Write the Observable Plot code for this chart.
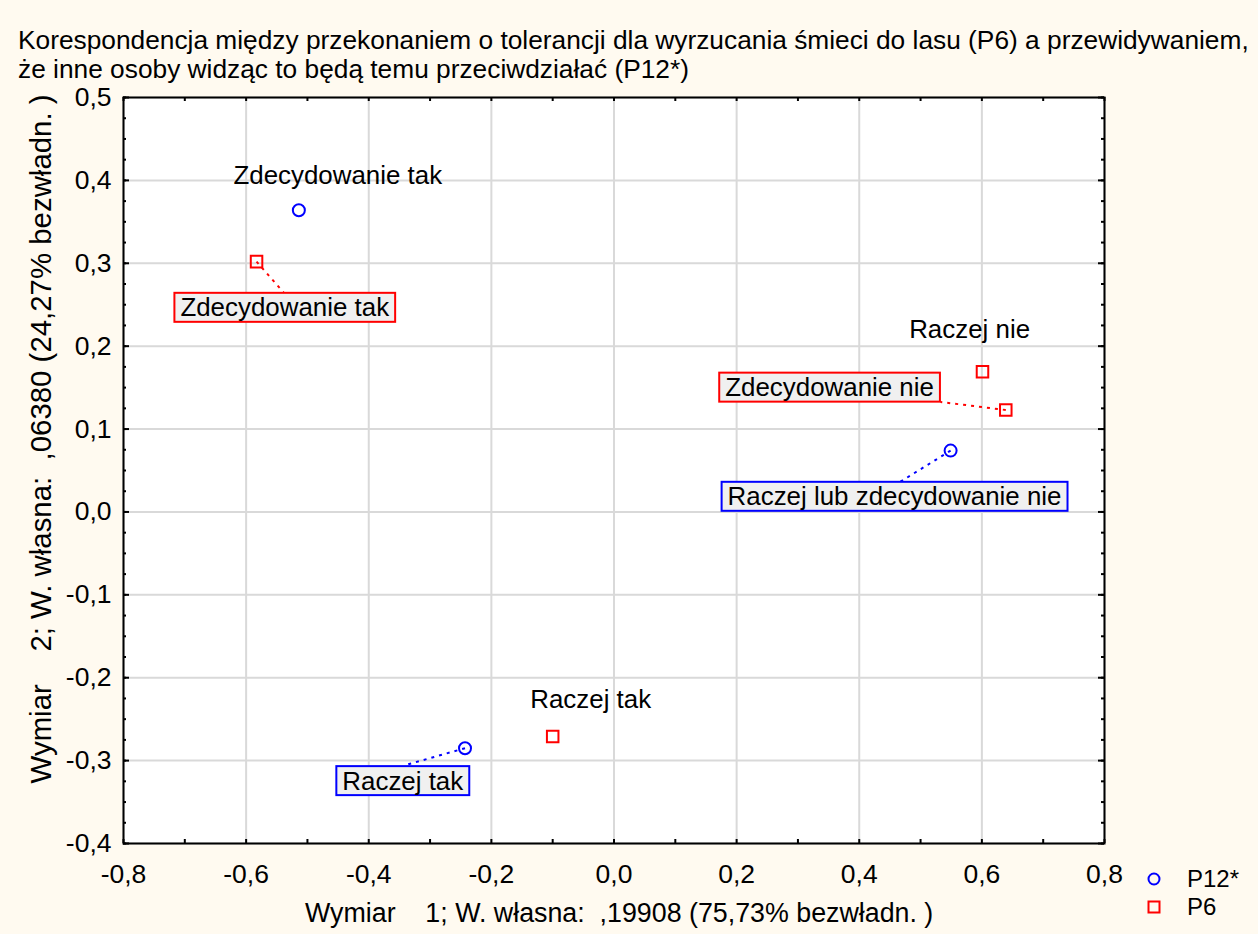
<!DOCTYPE html>
<html>
<head>
<meta charset="utf-8">
<script src="https://cdn.jsdelivr.net/npm/d3@7"></script>
<script src="https://cdn.jsdelivr.net/npm/@observablehq/plot@0.6"></script>
<style>
  html, body { margin: 0; padding: 0; background: #fffaf0; }
  #wrap { position: relative; width: 1258px; height: 934px; background: #fffaf0; overflow: hidden;
          font-family: "Liberation Sans", Arial, sans-serif; color: #000; }
  #title { position: absolute; left: 18px; top: 26px; font-size: 26.3px; line-height: 29px; white-space: pre; }
  #xlabel { position: absolute; left: 305px; top: 898px; font-size: 26.8px; line-height: 30px; white-space: pre; }
  #ylabel { position: absolute; left: 41px; top: 439px; font-size: 29.4px; line-height: 30px; white-space: pre;
            transform: translate(-50%, -50%) rotate(-90deg); }
  #legend { position: absolute; left: 1143px; top: 865px; font-size: 24px; line-height: 24px; }
  #legend div { display: flex; align-items: center; height: 28px; }
  #legend svg { width: 22px; height: 22px; margin-right: 22px; }
  #chart { position: absolute; left: 0; top: 0; }
</style>
</head>
<body>
<div id="wrap">
  <div id="chart"></div>
  <div id="title"></div>
  <div id="xlabel"></div>
  <div id="ylabel"></div>
  <div id="legend"></div>
</div>
<script>
// ---- Texts ----
const titleLines = [
  "Korespondencja między przekonaniem o tolerancji dla wyrzucania śmieci do lasu (P6) a przewidywaniem,",
  "że inne osoby widząc to będą temu przeciwdziałać (P12*)"
];
const xAxisTitle = "Wymiar    1; W. własna:  ,19908 (75,73% bezwładn. )";
const yAxisTitle = "Wymiar    2; W. własna:  ,06380 (24,27% bezwładn. )";
const seriesNames = ["P12*", "P6"];

// ---- Tick values ----
const xTicks = [-0.8, -0.6, -0.4, -0.2, 0.0, 0.2, 0.4, 0.6, 0.8];
const yTicks = [-0.4, -0.3, -0.2, -0.1, 0.0, 0.1, 0.2, 0.3, 0.4, 0.5];

// ---- Series P12* (circles) ----
const p12Labels = ["Zdecydowanie tak", "Raczej tak", "Raczej lub zdecydowanie nie"];
const p12Dim1 = [-0.514, -0.243, 0.549];
const p12Dim2 = [0.364, -0.285, 0.074];
// label anchors (data units) and whether label is boxed with a leader
const p12LabelX = [-0.4505, -0.3445, 0.4576];
const p12LabelY = [0.406, -0.325, 0.018];
const p12Boxed = [false, true, true];
const p12LeaderX = [null, -0.343, 0.464];
const p12LeaderY = [null, -0.306, 0.035];

// ---- Series P6 (squares) ----
const p6Labels = ["Zdecydowanie tak", "Raczej tak", "Raczej nie", "Zdecydowanie nie"];
const p6Dim1 = [-0.583, -0.100, 0.601, 0.639];
const p6Dim2 = [0.302, -0.271, 0.169, 0.123];
const p6LabelX = [-0.537, -0.038, 0.580, 0.3516];
const p6LabelY = [0.246, -0.227, 0.220, 0.1497];
const p6Boxed = [true, false, false, true];
const p6LeaderX = [-0.5385, null, null, 0.5326];
const p6LeaderY = [0.2644, null, null, 0.1327];

const BLUE = "#0000ff", RED = "#ff0000";

function rows(labels, xs, ys, lxs, lys, boxed, exs, eys) {
  return labels.map((t, i) => ({text: t, x: xs[i], y: ys[i], lx: lxs[i], ly: lys[i],
    boxed: boxed[i], ex: exs[i], ey: eys[i]}));
}
const p12 = rows(p12Labels, p12Dim1, p12Dim2, p12LabelX, p12LabelY, p12Boxed, p12LeaderX, p12LeaderY);
const p6 = rows(p6Labels, p6Dim1, p6Dim2, p6LabelX, p6LabelY, p6Boxed, p6LeaderX, p6LeaderY);

const W = 1258, H = 934;
const mT = 97, mL = 123, mR = 154, mB = 91;
const innerW = W - mL - mR, innerH = H - mT - mB;
const fmt = d => d.toFixed(1).replace(".", ",");
const font = "'Liberation Sans', Arial, sans-serif";
const LABEL_SIZE = 25.9, TICK_SIZE = 26.5;

const xMinor = d3.range(-8, 9).map(i => i / 10);
const yMinor = d3.range(-16, 21).map(i => i / 40);
const yMajor = d3.range(-4, 6).map(i => i / 10);

const chart = Plot.plot({
  width: W, height: H,
  marginTop: mT, marginLeft: mL, marginRight: mR, marginBottom: mB,
  x: {domain: [-0.8, 0.8]},
  y: {domain: [-0.4, 0.5]},
  style: {background: "transparent", fontFamily: font, fontSize: TICK_SIZE + "px", color: "#000"},
  marks: [
    Plot.frame({fill: "#ffffff"}),
    Plot.ruleX(xTicks, {x: d => d, stroke: "#d9d9d9", strokeWidth: 2}),
    Plot.ruleY(yTicks, {y: d => d, stroke: "#d9d9d9", strokeWidth: 2}),
    // inner ticks
    Plot.ruleX(xMinor, {x: d => d, insetTop: innerH - 4, stroke: "#000", strokeWidth: 2}),
    Plot.ruleX(xMinor, {x: d => d, insetBottom: innerH - 4, stroke: "#000", strokeWidth: 2}),
    Plot.ruleY(yMinor, {y: d => d, insetRight: innerW - 3, stroke: "#000", strokeWidth: 2}),
    Plot.ruleY(yMinor, {y: d => d, insetLeft: innerW - 3, stroke: "#000", strokeWidth: 2}),
    Plot.ruleY(yMajor, {y: d => d, insetRight: innerW - 6, stroke: "#000", strokeWidth: 2}),
    Plot.ruleY(yMajor, {y: d => d, insetLeft: innerW - 6, stroke: "#000", strokeWidth: 2}),
    Plot.axisX(xTicks, {anchor: "bottom", tickSize: 0, tickPadding: 21, tickFormat: fmt, label: null, fontSize: TICK_SIZE}),
    Plot.axisY(yTicks, {anchor: "left", tickSize: 0, tickPadding: 12, tickFormat: fmt, label: null, fontSize: TICK_SIZE}),
    // leader lines
    Plot.link(p12.filter(d => d.boxed), {x1: "x", y1: "y", x2: "ex", y2: "ey", stroke: BLUE, strokeWidth: 2, strokeDasharray: "3,5"}),
    Plot.link(p6.filter(d => d.boxed), {x1: "x", y1: "y", x2: "ex", y2: "ey", stroke: RED, strokeWidth: 2, strokeDasharray: "3,5"}),
    // points
    Plot.dot(p12, {x: "x", y: "y", r: 6, symbol: "circle", stroke: BLUE, strokeWidth: 2, fill: "none"}),
    Plot.dot(p6, {x: "x", y: "y", r: 6.5, symbol: "square", stroke: RED, strokeWidth: 2, fill: "none"}),
    // labels
    Plot.text(p12.filter(d => d.boxed), {x: "lx", y: "ly", text: "text", fontSize: LABEL_SIZE, fill: "#000", ariaDescription: "boxed-blue"}),
    Plot.text(p6.filter(d => d.boxed), {x: "lx", y: "ly", text: "text", fontSize: LABEL_SIZE, fill: "#000", ariaDescription: "boxed-red"}),
    Plot.text(p12.filter(d => !d.boxed), {x: "lx", y: "ly", text: "text", fontSize: LABEL_SIZE, fill: "#000"}),
    Plot.text(p6.filter(d => !d.boxed), {x: "lx", y: "ly", text: "text", fontSize: LABEL_SIZE, fill: "#000"}),
    Plot.frame({stroke: "#000", strokeWidth: 2})
  ]
});
document.getElementById("chart").appendChild(chart);

// boxes behind boxed labels
const ns = "http://www.w3.org/2000/svg";
const textGroups = Array.from(chart.querySelectorAll('g[aria-label="text"]'));
[["boxed-blue", BLUE, 0], ["boxed-red", RED, 1]].forEach(([lab, col, idx]) => {
  let g = chart.querySelector(`g[aria-description="${lab}"]`);
  if (!g) g = textGroups[idx];
  if (!g) return;
  g.querySelectorAll("text").forEach(t => {
    const b = t.getBBox();
    const r = document.createElementNS(ns, "rect");
    r.setAttribute("x", b.x - 6);
    r.setAttribute("y", b.y - 0.5);
    r.setAttribute("width", b.width + 12);
    r.setAttribute("height", b.height + 1);
    r.setAttribute("fill", "#f0f0f0");
    r.setAttribute("stroke", col);
    r.setAttribute("stroke-width", 2);
    const tr = t.getAttribute("transform");
    if (tr) r.setAttribute("transform", tr);
    t.parentNode.insertBefore(r, t);
  });
});

document.getElementById("title").textContent = titleLines.join("\n");
document.getElementById("xlabel").textContent = xAxisTitle;
document.getElementById("ylabel").textContent = yAxisTitle;

const legend = document.getElementById("legend");
legend.innerHTML =
  `<div><svg viewBox="0 0 22 22"><circle cx="11" cy="11" r="5.5" fill="none" stroke="${BLUE}" stroke-width="2"/></svg><span>${seriesNames[0]}</span></div>` +
  `<div><svg viewBox="0 0 22 22"><rect x="5.5" y="5.5" width="11" height="11" fill="none" stroke="${RED}" stroke-width="2"/></svg><span>${seriesNames[1]}</span></div>`;
</script>
</body>
</html>
